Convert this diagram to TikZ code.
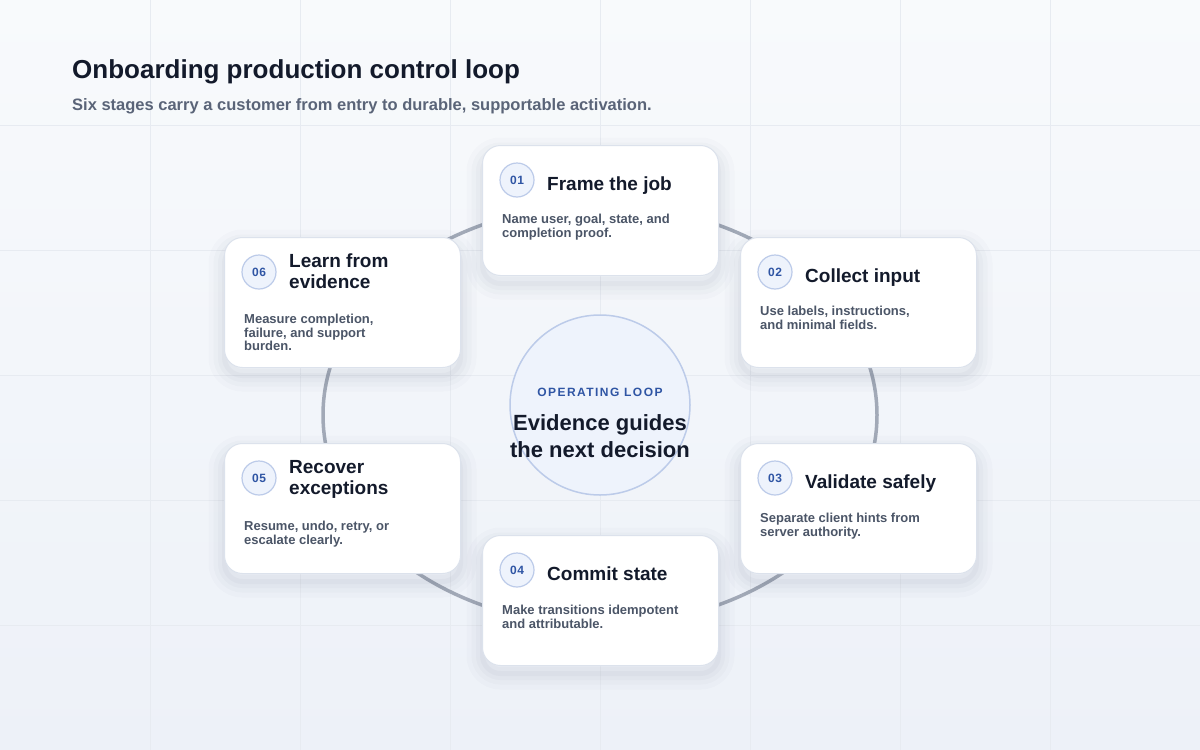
\documentclass[tikz,border=0pt]{standalone}
\usepackage{fontspec}
\setmainfont{Liberation Sans}
\newfontfamily\capsfont[LetterSpace=12]{Liberation Sans}
\newfontfamily\numfont[LetterSpace=5]{Liberation Sans}
\definecolor{ink}{HTML}{131A2B}
\definecolor{subgray}{HTML}{5A6478}
\definecolor{bodygray}{HTML}{4B5567}
\definecolor{loopblue}{HTML}{2F55A4}
\definecolor{cardline}{HTML}{DCE2EC}
\definecolor{badgefill}{HTML}{EEF3FC}
\definecolor{badgeline}{HTML}{BCCBE9}
\definecolor{ringgray}{HTML}{A2A9B7}
\definecolor{gridgray}{HTML}{E7EBF1}
\definecolor{bgtop}{HTML}{F8FAFC}
\definecolor{bgbottom}{HTML}{EDF1F8}
\definecolor{shadowblue}{HTML}{1E2A4A}
\begin{document}
\begin{tikzpicture}[x=1pt,y=-1pt,
  softshadow/.style={draw=shadowblue, draw opacity=#1, transform canvas={yshift=-8pt}},
  card/.style={draw=cardline, line width=1pt, fill=white, rounded corners=18pt,
    minimum width=236pt, minimum height=130pt, inner sep=0pt, anchor=north west,
    preaction={softshadow=0.016, line width=32pt},
    preaction={softshadow=0.018, line width=22pt},
    preaction={softshadow=0.022, line width=13pt},
    preaction={softshadow=0.026, line width=5pt}},
  badge/.style={circle, draw=badgeline, line width=1.2pt, fill=badgefill, minimum size=34pt,
    inner sep=0pt, text=loopblue, font=\numfont\bfseries\fontsize{12}{12}\selectfont},
  stagetitle/.style={anchor=north west, inner sep=0pt, align=left, text=ink,
    font=\bfseries\fontsize{19}{21}\selectfont},
  stagebody/.style={anchor=north west, inner sep=0pt, align=left, text=bodygray,
    font=\bfseries\fontsize{13}{13.5}\selectfont},
  ring/.style={draw=ringgray, line width=3.5pt},
  gridline/.style={draw=gridgray, line width=0.8pt}]
  % background and grid
  \shade[top color=bgtop, bottom color=bgbottom] (0,0) rectangle (1200,750);
  \useasboundingbox (0,0) rectangle (1200,750);
  \foreach \gx in {150,300,...,1050} \draw[gridline] (\gx,0) -- (\gx,750);
  \foreach \gy in {125,250,...,625} \draw[gridline] (0,\gy) -- (1200,\gy);
  % heading
  \node[anchor=base west, inner sep=0pt, text=ink, font=\bfseries\fontsize{26}{30}\selectfont]
    (heading) at (72,78) {Onboarding production control loop};
  \node[anchor=base west, inner sep=0pt, text=subgray, font=\bfseries\fontsize{16.5}{20}\selectfont]
    (subheading) at (72,110) {Six stages carry a customer from entry to durable, supportable activation.};
  % loop ring
  \draw[ring] (600,415) ellipse [x radius=277, y radius=210];
  % center hub
  \node[circle, draw=badgeline, line width=1.5pt, fill=badgefill, minimum size=180pt] (hub) at (600,405) {};
  \node[text=loopblue, font=\capsfont\bfseries\fontsize{12}{12}\selectfont] (hubtag) at (600,392) {OPERATING LOOP};
  \node[align=center, text=ink, font=\bfseries\fontsize{22}{27}\selectfont] (hubtext) at (600,436)
    {Evidence guides\\the next decision};
  % stage 01
  \node[card] (card1) at (482,145) {};
  \node[badge] (num1) at (517,180) {01};
  \node[stagetitle] (title1) at (547,177) {Frame the job};
  \node[stagebody] (body1) at (502,214) {Name user, goal, state, and\\completion proof.};
  % stage 02
  \node[card] (card2) at (740,237) {};
  \node[badge] (num2) at (775,272) {02};
  \node[stagetitle] (title2) at (805,269) {Collect input};
  \node[stagebody] (body2) at (760,306) {Use labels, instructions,\\and minimal fields.};
  % stage 03
  \node[card] (card3) at (740,443) {};
  \node[badge] (num3) at (775,478) {03};
  \node[stagetitle] (title3) at (805,475) {Validate safely};
  \node[stagebody] (body3) at (760,513) {Separate client hints from\\server authority.};
  % stage 04
  \node[card] (card4) at (482,535) {};
  \node[badge] (num4) at (517,570) {04};
  \node[stagetitle] (title4) at (547,567) {Commit state};
  \node[stagebody] (body4) at (502,605) {Make transitions idempotent\\and attributable.};
  % stage 05
  \node[card] (card5) at (224,443) {};
  \node[badge] (num5) at (259,478) {05};
  \node[stagetitle] (title5) at (289,460) {Recover\\exceptions};
  \node[stagebody] (body5) at (244,521) {Resume, undo, retry, or\\escalate clearly.};
  % stage 06
  \node[card] (card6) at (224,237) {};
  \node[badge] (num6) at (259,272) {06};
  \node[stagetitle] (title6) at (289,254) {Learn from\\evidence};
  \node[stagebody] (body6) at (244,314) {Measure completion,\\failure, and support\\burden.};
\end{tikzpicture}
\end{document}
